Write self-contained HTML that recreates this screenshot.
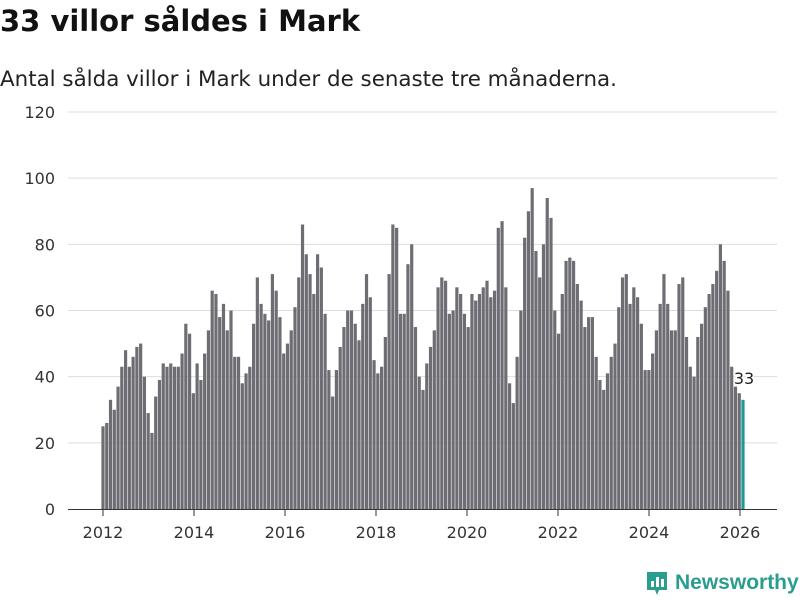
<!DOCTYPE html>
<html><head><meta charset="utf-8"><style>
body{margin:0;width:800px;height:600px;background:#fff;font-family:"Liberation Sans",sans-serif;overflow:hidden}
#t{position:absolute;left:0;top:4px;font-family:"DejaVu Sans","Liberation Sans",sans-serif;font-size:29px;font-weight:bold;color:#111;margin:0}
#s{position:absolute;left:0;top:67px;font-family:"DejaVu Sans","Liberation Sans",sans-serif;font-size:21.4px;color:#222;margin:0}
</style></head><body>
<h1 id="t">33 villor såldes i Mark</h1>
<p id="s">Antal sålda villor i Mark under de senaste tre månaderna.</p>
<svg id="c" width="800" height="600" style="position:absolute;left:0;top:0"></svg>
<script>
const values=[25,26,33,30,37,43,48,43,46,49,50,40,
29,23,34,39,44,43,44,43,43,47,56,53,
35,44,39,47,54,66,65,58,62,54,60,46,
46,38,41,43,56,70,62,59,57,71,66,58,
47,50,54,61,70,86,77,71,65,77,73,59,
42,34,42,49,55,60,60,56,51,62,71,64,
45,41,43,52,71,86,85,59,59,74,80,55,
40,36,44,49,54,67,70,69,59,60,67,65,
59,55,65,63,65,67,69,64,66,85,87,67,
38,32,46,60,82,90,97,78,70,80,94,88,
60,53,65,75,76,75,68,63,55,58,58,46,
39,36,41,46,50,61,70,71,62,67,64,56,
42,42,47,54,62,71,62,54,54,68,70,52,
43,40,52,56,61,65,68,72,80,75,66,43,37,35,33];
const yTicks=[0,20,40,60,80,100,120];
const xTicks=[2012,2014,2016,2018,2020,2022,2024,2026];
const svg=document.getElementById('c');const NS='http://www.w3.org/2000/svg';
const y=v=>509-v*(397/120);
const xYear=yr=>103+(yr-2012)*(637/14);
const step=(743-103)/(values.length-1);
const xi=i=>103+i*step;
function mk(tag,a){const e=document.createElementNS(NS,tag);for(const k in a)e.setAttribute(k,a[k]);svg.appendChild(e);return e;}
yTicks.forEach(v=>{
 if(v>0){const g=mk('line',{x1:68,x2:777,y1:y(v),y2:y(v),stroke:'#ddd','stroke-width':1});
 
 }
 const t=mk('text',{x:55,y:y(v)+6,'text-anchor':'end','font-size':16,fill:'#333','font-family':'DejaVu Sans, sans-serif'});
 t.textContent=v;
 
 
});
values.forEach((v,i)=>{
 const last=i===values.length-1;
 const r=mk('rect',{x:xi(i)-1.6,y:y(v),width:3.2,height:509-y(v),fill:last?'#1a9a94':'#6e6d73'});
 
 
});
const ax=mk('line',{x1:68,x2:777,y1:509.5,y2:509.5,stroke:'#333','stroke-width':1});


xTicks.forEach(yr=>{
 const tk=mk('line',{x1:xYear(yr),x2:xYear(yr),y1:510,y2:516,stroke:'#333'});
 
 
 const t=mk('text',{x:xYear(yr),y:538,'text-anchor':'middle','font-size':16,fill:'#333','font-family':'DejaVu Sans, sans-serif'});
 t.textContent=yr;
 
 
});
const lv=values[values.length-1];
const lb=mk('text',{x:xi(values.length-1)+1,y:y(lv)-16,'text-anchor':'middle','font-size':16,fill:'#222',stroke:'#fff','stroke-width':3,'paint-order':'stroke','font-family':'DejaVu Sans, sans-serif'});
lb.textContent=lv;


</script>
<div style="position:absolute;left:645px;top:569px;height:28px;display:flex;align-items:center">
<svg width="24" height="26" viewBox="0 0 24 26"><path d="M2 2h20v18h-8l-2 5-2-5H2z" fill="#2a9d8f"/><rect x="6" y="11" width="3" height="6" fill="#fff"/><rect x="11" y="7" width="3" height="10" fill="#fff"/><rect x="16" y="9" width="3" height="8" fill="#fff"/></svg>
<span style="font-size:21px;font-weight:bold;color:#2a9d8f;margin-left:6px">Newsworthy</span></div>
</body></html>
